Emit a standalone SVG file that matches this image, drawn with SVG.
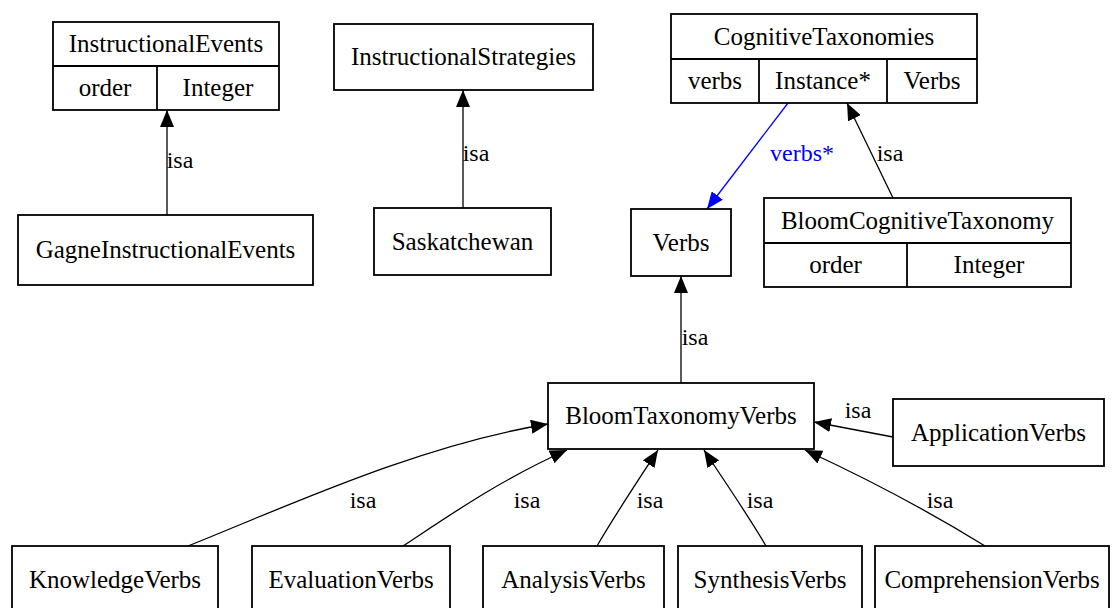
<svg xmlns="http://www.w3.org/2000/svg" width="1112" height="608" viewBox="0 0 1112 608">
  <defs>
    <style>
      .box { fill: #ffffff; stroke: #000000; stroke-width: 1.8; }
      .div { stroke: #000000; stroke-width: 1.8; fill: none; }
      .lbl { font-family: "Liberation Serif", "Times New Roman", serif; font-size: 25px; fill: #000000; text-anchor: middle; }
      .edge { fill: none; stroke: #000000; stroke-width: 1.3; }
      .edge-blue { fill: none; stroke: #0000ff; stroke-width: 1.3; }
      .elbl { font-family: "Liberation Serif", "Times New Roman", serif; font-size: 24px; fill: #000000; text-anchor: middle; }
      .elbl-blue { font-family: "Liberation Serif", "Times New Roman", serif; font-size: 24px; fill: #0000ff; text-anchor: middle; }
    </style>
    <marker id="arrow" markerUnits="userSpaceOnUse" markerWidth="18" markerHeight="14" refX="17" refY="7" orient="auto">
      <path d="M0,0 L17,7 L0,14 z" fill="#000000"/>
    </marker>
    <marker id="arrow-blue" markerUnits="userSpaceOnUse" markerWidth="18" markerHeight="14" refX="17" refY="7" orient="auto">
      <path d="M0,0 L17,7 L0,14 z" fill="#0000ff"/>
    </marker>
  </defs>

  <rect width="1112" height="608" fill="#ffffff"/>

  <!-- connectors -->
  <g id="connectors">
    <path class="edge" d="M167,215 L167,110" marker-end="url(#arrow)"/>
    <text class="elbl" x="180" y="168">isa</text>

    <path class="edge" d="M463,208 L463,90" marker-end="url(#arrow)"/>
    <text class="elbl" x="476" y="161">isa</text>

    <path class="edge-blue" d="M788,103 L707,209" marker-end="url(#arrow-blue)"/>
    <text class="elbl-blue" x="802" y="161">verbs*</text>

    <path class="edge" d="M893,198 L847,103" marker-end="url(#arrow)"/>
    <text class="elbl" x="890" y="161">isa</text>

    <path class="edge" d="M681,383 L681,276" marker-end="url(#arrow)"/>
    <text class="elbl" x="695" y="345">isa</text>

    <path class="edge" d="M893,437 L814,422" marker-end="url(#arrow)"/>
    <text class="elbl" x="858" y="418">isa</text>

    <path class="edge" d="M188,546 C290,505 420,445 548,424" marker-end="url(#arrow)"/>
    <text class="elbl" x="363" y="508">isa</text>

    <path class="edge" d="M403,546 C450,515 500,480 567,450" marker-end="url(#arrow)"/>
    <text class="elbl" x="527" y="508">isa</text>

    <path class="edge" d="M597,546 C615,515 635,485 658,450" marker-end="url(#arrow)"/>
    <text class="elbl" x="650" y="508">isa</text>

    <path class="edge" d="M766,546 C748,515 725,482 704,450" marker-end="url(#arrow)"/>
    <text class="elbl" x="760" y="508">isa</text>

    <path class="edge" d="M985,546 C930,512 870,480 805,450" marker-end="url(#arrow)"/>
    <text class="elbl" x="940" y="508">isa</text>
  </g>

  <!-- InstructionalEvents record -->
  <g id="InstructionalEvents">
    <rect class="box" x="53" y="22" width="226" height="88"/>
    <line class="div" x1="53" y1="66" x2="279" y2="66"/>
    <line class="div" x1="157" y1="66" x2="157" y2="110"/>
    <text class="lbl" x="166" y="52">InstructionalEvents</text>
    <text class="lbl" x="105" y="96">order</text>
    <text class="lbl" x="218" y="96">Integer</text>
  </g>

  <g id="GagneInstructionalEvents">
    <rect class="box" x="18" y="215" width="295" height="70"/>
    <text class="lbl" x="165.5" y="258">GagneInstructionalEvents</text>
  </g>

  <g id="InstructionalStrategies">
    <rect class="box" x="334" y="24" width="259" height="66"/>
    <text class="lbl" x="463.5" y="65">InstructionalStrategies</text>
  </g>

  <g id="Saskatchewan">
    <rect class="box" x="374" y="208" width="177" height="67"/>
    <text class="lbl" x="462.5" y="250">Saskatchewan</text>
  </g>

  <!-- CognitiveTaxonomies record -->
  <g id="CognitiveTaxonomies">
    <rect class="box" x="671" y="14" width="306" height="89"/>
    <line class="div" x1="671" y1="59" x2="977" y2="59"/>
    <line class="div" x1="759" y1="59" x2="759" y2="103"/>
    <line class="div" x1="887" y1="59" x2="887" y2="103"/>
    <text class="lbl" x="824" y="45">CognitiveTaxonomies</text>
    <text class="lbl" x="715" y="89">verbs</text>
    <text class="lbl" x="823" y="89">Instance*</text>
    <text class="lbl" x="932" y="89">Verbs</text>
  </g>

  <g id="Verbs">
    <rect class="box" x="631" y="209" width="100" height="67"/>
    <text class="lbl" x="681" y="251">Verbs</text>
  </g>

  <!-- BloomCognitiveTaxonomy record -->
  <g id="BloomCognitiveTaxonomy">
    <rect class="box" x="764" y="198" width="307" height="89"/>
    <line class="div" x1="764" y1="243" x2="1071" y2="243"/>
    <line class="div" x1="907" y1="243" x2="907" y2="287"/>
    <text class="lbl" x="917.5" y="229">BloomCognitiveTaxonomy</text>
    <text class="lbl" x="835.5" y="273">order</text>
    <text class="lbl" x="989" y="273">Integer</text>
  </g>

  <g id="BloomTaxonomyVerbs">
    <rect class="box" x="548" y="383" width="266" height="66"/>
    <text class="lbl" x="681" y="424">BloomTaxonomyVerbs</text>
  </g>

  <g id="ApplicationVerbs">
    <rect class="box" x="893" y="399" width="211" height="67"/>
    <text class="lbl" x="998.5" y="441">ApplicationVerbs</text>
  </g>

  <g id="KnowledgeVerbs">
    <rect class="box" x="12" y="546" width="206" height="70"/>
    <text class="lbl" x="115" y="588">KnowledgeVerbs</text>
  </g>

  <g id="EvaluationVerbs">
    <rect class="box" x="252" y="546" width="198" height="70"/>
    <text class="lbl" x="351" y="588">EvaluationVerbs</text>
  </g>

  <g id="AnalysisVerbs">
    <rect class="box" x="483" y="546" width="181" height="70"/>
    <text class="lbl" x="573.5" y="588">AnalysisVerbs</text>
  </g>

  <g id="SynthesisVerbs">
    <rect class="box" x="678" y="546" width="184" height="70"/>
    <text class="lbl" x="770" y="588">SynthesisVerbs</text>
  </g>

  <g id="ComprehensionVerbs">
    <rect class="box" x="875" y="546" width="234" height="70"/>
    <text class="lbl" x="992" y="588">ComprehensionVerbs</text>
  </g>
</svg>
